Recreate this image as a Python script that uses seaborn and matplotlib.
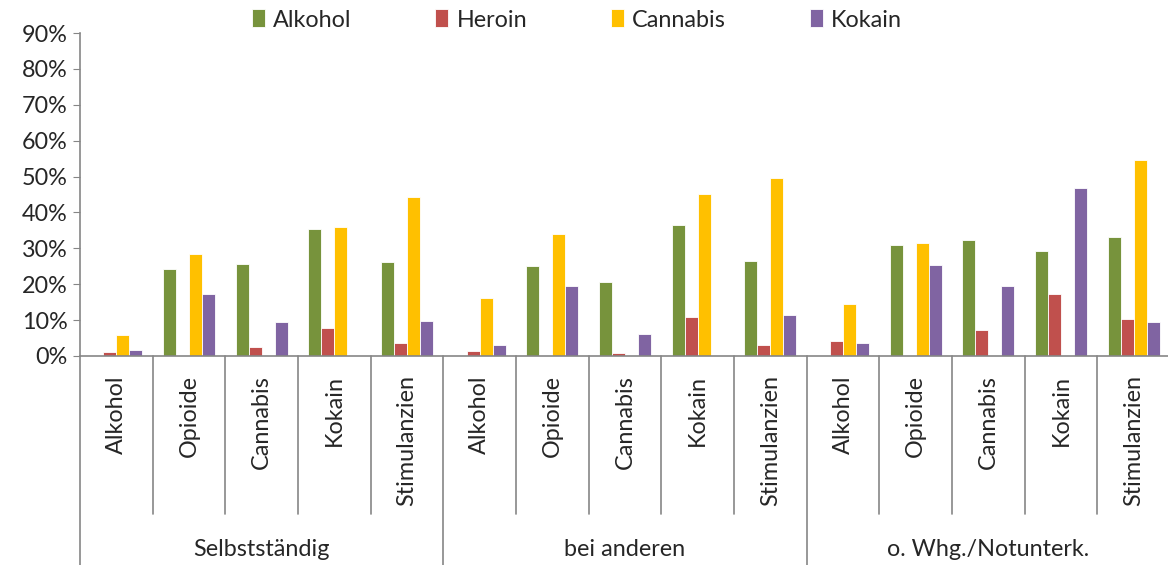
import numpy as np
import pandas as pd
import seaborn as sns
import matplotlib.pyplot as plt
from matplotlib.ticker import PercentFormatter, FixedLocator
from matplotlib.lines import Line2D

sns.set_style('white')
plt.rcParams['font.family'] = ['Lato', 'DejaVu Sans']

# data ----
groups = ['Selbstständig', 'bei anderen', 'o. Whg./Notunterk.']
substances = ['Alkohol', 'Opioide', 'Cannabis', 'Kokain', 'Stimulanzien']
series = ['Alkohol', 'Heroin', 'Cannabis', 'Kokain']
colors = ['#77933C', '#C0504D', '#FFC000', '#8064A2']

# values in %, one list per series, 15 categories (group x substance)
alkohol = [0, 24.2, 25.5, 35.4, 26.3,
           0, 25.1, 20.6, 36.5, 26.5,
           0, 31.0, 32.2, 29.2, 33.1]
heroin = [1.1, 0, 2.4, 7.7, 3.5,
          1.3, 0, 0.8, 10.9, 3.2,
          4.3, 0, 7.2, 17.4, 10.2]
cannabis = [5.8, 28.4, 0, 36.0, 44.3,
            16.3, 34.1, 0, 45.1, 49.7,
            14.5, 31.5, 0, 0, 54.7]
kokain = [1.8, 17.2, 9.5, 0, 9.8,
          3.2, 19.6, 6.1, 0, 11.3,
          3.5, 25.3, 19.6, 46.9, 9.6]

cats = [f'{g}|{s}' for g in groups for s in substances]
df = pd.DataFrame({'cat': cats * 4,
                   'serie': np.repeat(series, len(cats)),
                   'wert': np.concatenate([alkohol, heroin, cannabis, kokain]) / 100})

fs = 16.8
fig = plt.figure(figsize=(11.68, 5.65), dpi=100)
ax = fig.add_axes([80 / 1168, 1 - 356 / 565, 1090 / 1168, 323 / 565])

sns.barplot(data=df, x='cat', y='wert', hue='serie', hue_order=series, palette=colors,
            order=cats, width=0.72, saturation=1, edgecolor='white', linewidth=0.6, ax=ax)

grey = '#868686'
ax.set_ylim(0, 0.9)
ax.set_xlim(-0.5, 14.5)
ax.yaxis.set_major_locator(FixedLocator(np.arange(0, 0.91, 0.1)))
ax.yaxis.set_major_formatter(PercentFormatter(1, decimals=0))
ax.tick_params(axis='y', labelsize=fs, length=5, color=grey, left=True, pad=4)
ax.set_xticks([])
ax.set_xlabel('')
ax.set_ylabel('')
for s in ['top', 'right']:
    ax.spines[s].set_visible(False)
for s in ['left', 'bottom']:
    ax.spines[s].set_color(grey)
    ax.spines[s].set_linewidth(1.2)

# category labels and separators below the axis
trans = ax.get_xaxis_transform()
y_lab = -(375 - 356) / 323
y_short = -(514 - 356) / 323
y_long = -(565 - 356) / 323
for i, c in enumerate(cats):
    ax.text(i, y_lab, c.split('|')[1], rotation=90, ha='center', va='top',
            fontsize=fs, transform=trans)
for k in range(16):
    x = k - 0.5
    y_end = y_long if k % 5 == 0 else y_short
    ax.add_line(Line2D([x, x], [0, y_end], color=grey, lw=1.2, transform=trans, clip_on=False))
for j, g in enumerate(groups):
    ax.text(j * 5 + 2, -(550 - 356) / 323, g, ha='center', va='center',
            fontsize=fs, transform=trans)

# legend on top
handles, labels = ax.get_legend_handles_labels()
ax.legend_.remove()
fig.legend(handles, labels, loc='center', bbox_to_anchor=(0.494, 1 - 20 / 565), ncol=4,
           frameon=False, fontsize=fs, handlelength=0.55, handleheight=0.8,
           handletextpad=0.35, columnspacing=3.6)

plt.savefig('out.png', dpi=100)
plt.close()
